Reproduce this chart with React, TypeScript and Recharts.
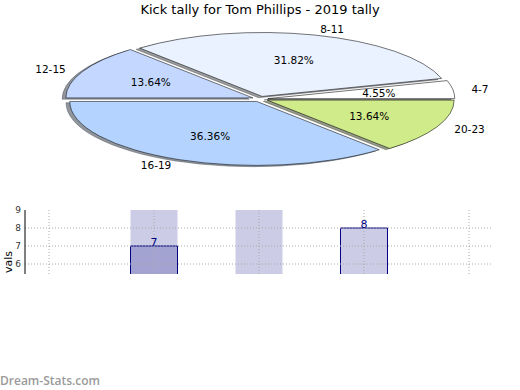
import React from 'react';
import { PieChart, Pie, Cell, BarChart, Bar, XAxis, YAxis, ReferenceLine, LabelList } from 'recharts';

const TITLE = 'Kick tally for Tom Phillips - 2019 tally';

// pie: kicks per interval
const intervals = ['4-7', '8-11', '12-15', '16-19', '20-23'];
const kicks = [1, 7, 3, 8, 3];
const sliceColors = ['#ffffff', '#eaf1ff', '#c4d8ff', '#b4d4ff', '#d0eb8a'];

// bar strip below (only its top part is visible)
const barX = [0, 1, 2, 3, 4];
const barVals = [null, 7, null, 8, null];
const bandVals = [null, 9, 9, null, null];
const yTicks = [6, 7, 8, 9];

const FONT = '"DejaVu Sans", sans-serif';

// elliptical pie: a round pie squashed vertically
const R = 187;
const K = 0.342;
const CX = 260;
const CY = 289.5;
const EXPLODE = 0.042;
const SHADOW = 0.02 * R;

const total = kicks.reduce((a, b) => a + b, 0);
const pieData = intervals.map((name, i) => ({ name, value: kicks[i] }));
const midAngles = kicks.map((v, i) => {
  const before = kicks.slice(0, i).reduce((a, b) => a + b, 0);
  return ((before + v / 2) / total) * 360;
});

const shade = (hex: string) => {
  const n = parseInt(hex.slice(1), 16);
  const r = Math.round(((n >> 16) & 255) * 0.3);
  const g = Math.round(((n >> 8) & 255) * 0.3);
  const b = Math.round((n & 255) * 0.3);
  return `rgb(${r},${g},${b})`;
};

const renderLabel = (i: number) => (p: any) => {
  if (p.index !== i) return null;
  const a = (-p.midAngle * Math.PI) / 180;
  const nx = p.cx + 1.1 * p.outerRadius * Math.cos(a);
  const ny = p.cy + 1.1 * p.outerRadius * Math.sin(a);
  const px = p.cx + 0.6 * p.outerRadius * Math.cos(a);
  const py = p.cy + 0.6 * p.outerRadius * Math.sin(a);
  return (
    <g>
      <text
        transform={`translate(${nx},${ny}) scale(1,${1 / K})`}
        textAnchor={Math.cos(a) > 0 ? 'start' : 'end'}
        dominantBaseline="central"
        fontSize={10.5}
        fontFamily={FONT}
        fill="#000"
      >
        {intervals[i]}
      </text>
      <text
        transform={`translate(${px},${py}) scale(1,${1 / K})`}
        textAnchor="middle"
        dominantBaseline="central"
        fontSize={10.5}
        fontFamily={FONT}
        fill="#000"
      >
        {(p.percent * 100).toFixed(2)}%
      </text>
    </g>
  );
};

const offset = (i: number) => {
  const a = (midAngles[i] * Math.PI) / 180;
  return { dx: EXPLODE * R * Math.cos(a), dy: -EXPLODE * R * Math.sin(a) };
};

export default function App() {
  const barData = barX.map((x, i) => ({ x, v: barVals[i], band: bandVals[i] }));

  return (
    <div style={{ position: 'absolute', left: 0, top: 0, width: 520, height: 390, background: '#fff', overflow: 'hidden', fontFamily: FONT }}>
      <div style={{ position: 'absolute', top: 2, width: 520, textAlign: 'center', fontSize: 13, lineHeight: '16px', color: '#000' }}>
        {TITLE}
      </div>

      <div style={{ position: 'absolute', left: 0, top: 0, width: 520, height: 600, transform: `scaleY(${K})`, transformOrigin: '0 0' }}>
        <PieChart width={520} height={600} margin={{ top: 0, right: 0, bottom: 0, left: 0 }}>
          {/* shadows first, underneath every wedge */}
          {intervals.map((_, i) => {
            const { dx, dy } = offset(i);
            return (
              <Pie
                key={'sh' + i}
                data={pieData}
                dataKey="value"
                nameKey="name"
                cx={CX + dx - SHADOW}
                cy={CY + dy + SHADOW}
                outerRadius={R}
                startAngle={0}
                endAngle={360}
                isAnimationActive={false}
                labelLine={false}
              >
                {pieData.map((_, j) => (
                  <Cell
                    key={j}
                    fill={j === i ? shade(sliceColors[i]) : 'none'}
                    fillOpacity={0.55}
                    stroke={j === i ? shade(sliceColors[i]) : 'none'}
                    strokeOpacity={0.6}
                    strokeWidth={1}
                    vectorEffect="non-scaling-stroke"
                  />
                ))}
              </Pie>
            );
          })}
          {intervals.map((_, i) => {
            const { dx, dy } = offset(i);
            return (
              <Pie
                key={'w' + i}
                data={pieData}
                dataKey="value"
                nameKey="name"
                cx={CX + dx}
                cy={CY + dy}
                outerRadius={R}
                startAngle={0}
                endAngle={360}
                isAnimationActive={false}
                labelLine={false}
                label={renderLabel(i)}
              >
                {pieData.map((_, j) => (
                  <Cell
                    key={j}
                    fill={j === i ? sliceColors[i] : 'none'}
                    stroke={j === i ? '#000' : 'none'}
                    strokeWidth={0.8}
                    vectorEffect="non-scaling-stroke"
                  />
                ))}
              </Pie>
            );
          })}
        </PieChart>
      </div>

      <div style={{ position: 'absolute', left: 0, top: 200, width: 520, height: 74, overflow: 'hidden' }}>
        <BarChart width={520} height={190} data={barData} margin={{ top: 10, right: 27, bottom: 18, left: 0 }}>
          <XAxis xAxisId="a" dataKey="x" type="number" domain={[-0.2286, 4.2286]} orientation="top" height={0} tick={false} tickLine={false} axisLine={{ stroke: '#000' }} />
          <XAxis xAxisId="b" dataKey="x" type="number" domain={[-0.2286, 4.2286]} hide />
          <YAxis
            yAxisId="l"
            domain={[0, 9]}
            ticks={yTicks}
            width={25}
            tickLine={false}
            tickSize={2}
            tickMargin={2}
            axisLine={{ stroke: '#000' }}
            tick={{ fontSize: 9, fill: '#333', fontFamily: FONT }}
            label={{
              content: () => (
                <text transform="translate(12,73) rotate(-90)" textAnchor="start" fontSize={11} fontFamily={FONT} fill="#000">
                  vals
                </text>
              ),
            }}
          />
          <YAxis yAxisId="r" orientation="right" domain={[0, 9]} width={0} tick={false} tickLine={false} axisLine={{ stroke: '#000' }} />
          <Bar xAxisId="b" yAxisId="l" dataKey="band" fill="#000080" fillOpacity={0.2} barSize={47} isAnimationActive={false} />
          <Bar xAxisId="a" yAxisId="l" dataKey="v" fill="#000080" fillOpacity={0.2} stroke="#000080" strokeWidth={1} barSize={47} isAnimationActive={false}>
            <LabelList dataKey="v" position="top" offset={0} fill="#000080" fontSize={11} fontFamily={FONT} />
          </Bar>
          {yTicks.slice(0, -1).map((t) => (
            <ReferenceLine key={'y' + t} xAxisId="a" yAxisId="l" y={t} stroke="#aaa" strokeDasharray="1 2" />
          ))}
          {barX.map((x) => (
            <ReferenceLine key={'x' + x} xAxisId="a" yAxisId="l" x={x} stroke="#aaa" strokeDasharray="1 2" />
          ))}
        </BarChart>
      </div>

      <div style={{ position: 'absolute', left: 0, top: 372, fontSize: 12, fontWeight: 600, color: '#9a9a9a', fontFamily: '"Open Sans", sans-serif' }}>
        Dream-Stats.com
      </div>
    </div>
  );
}
